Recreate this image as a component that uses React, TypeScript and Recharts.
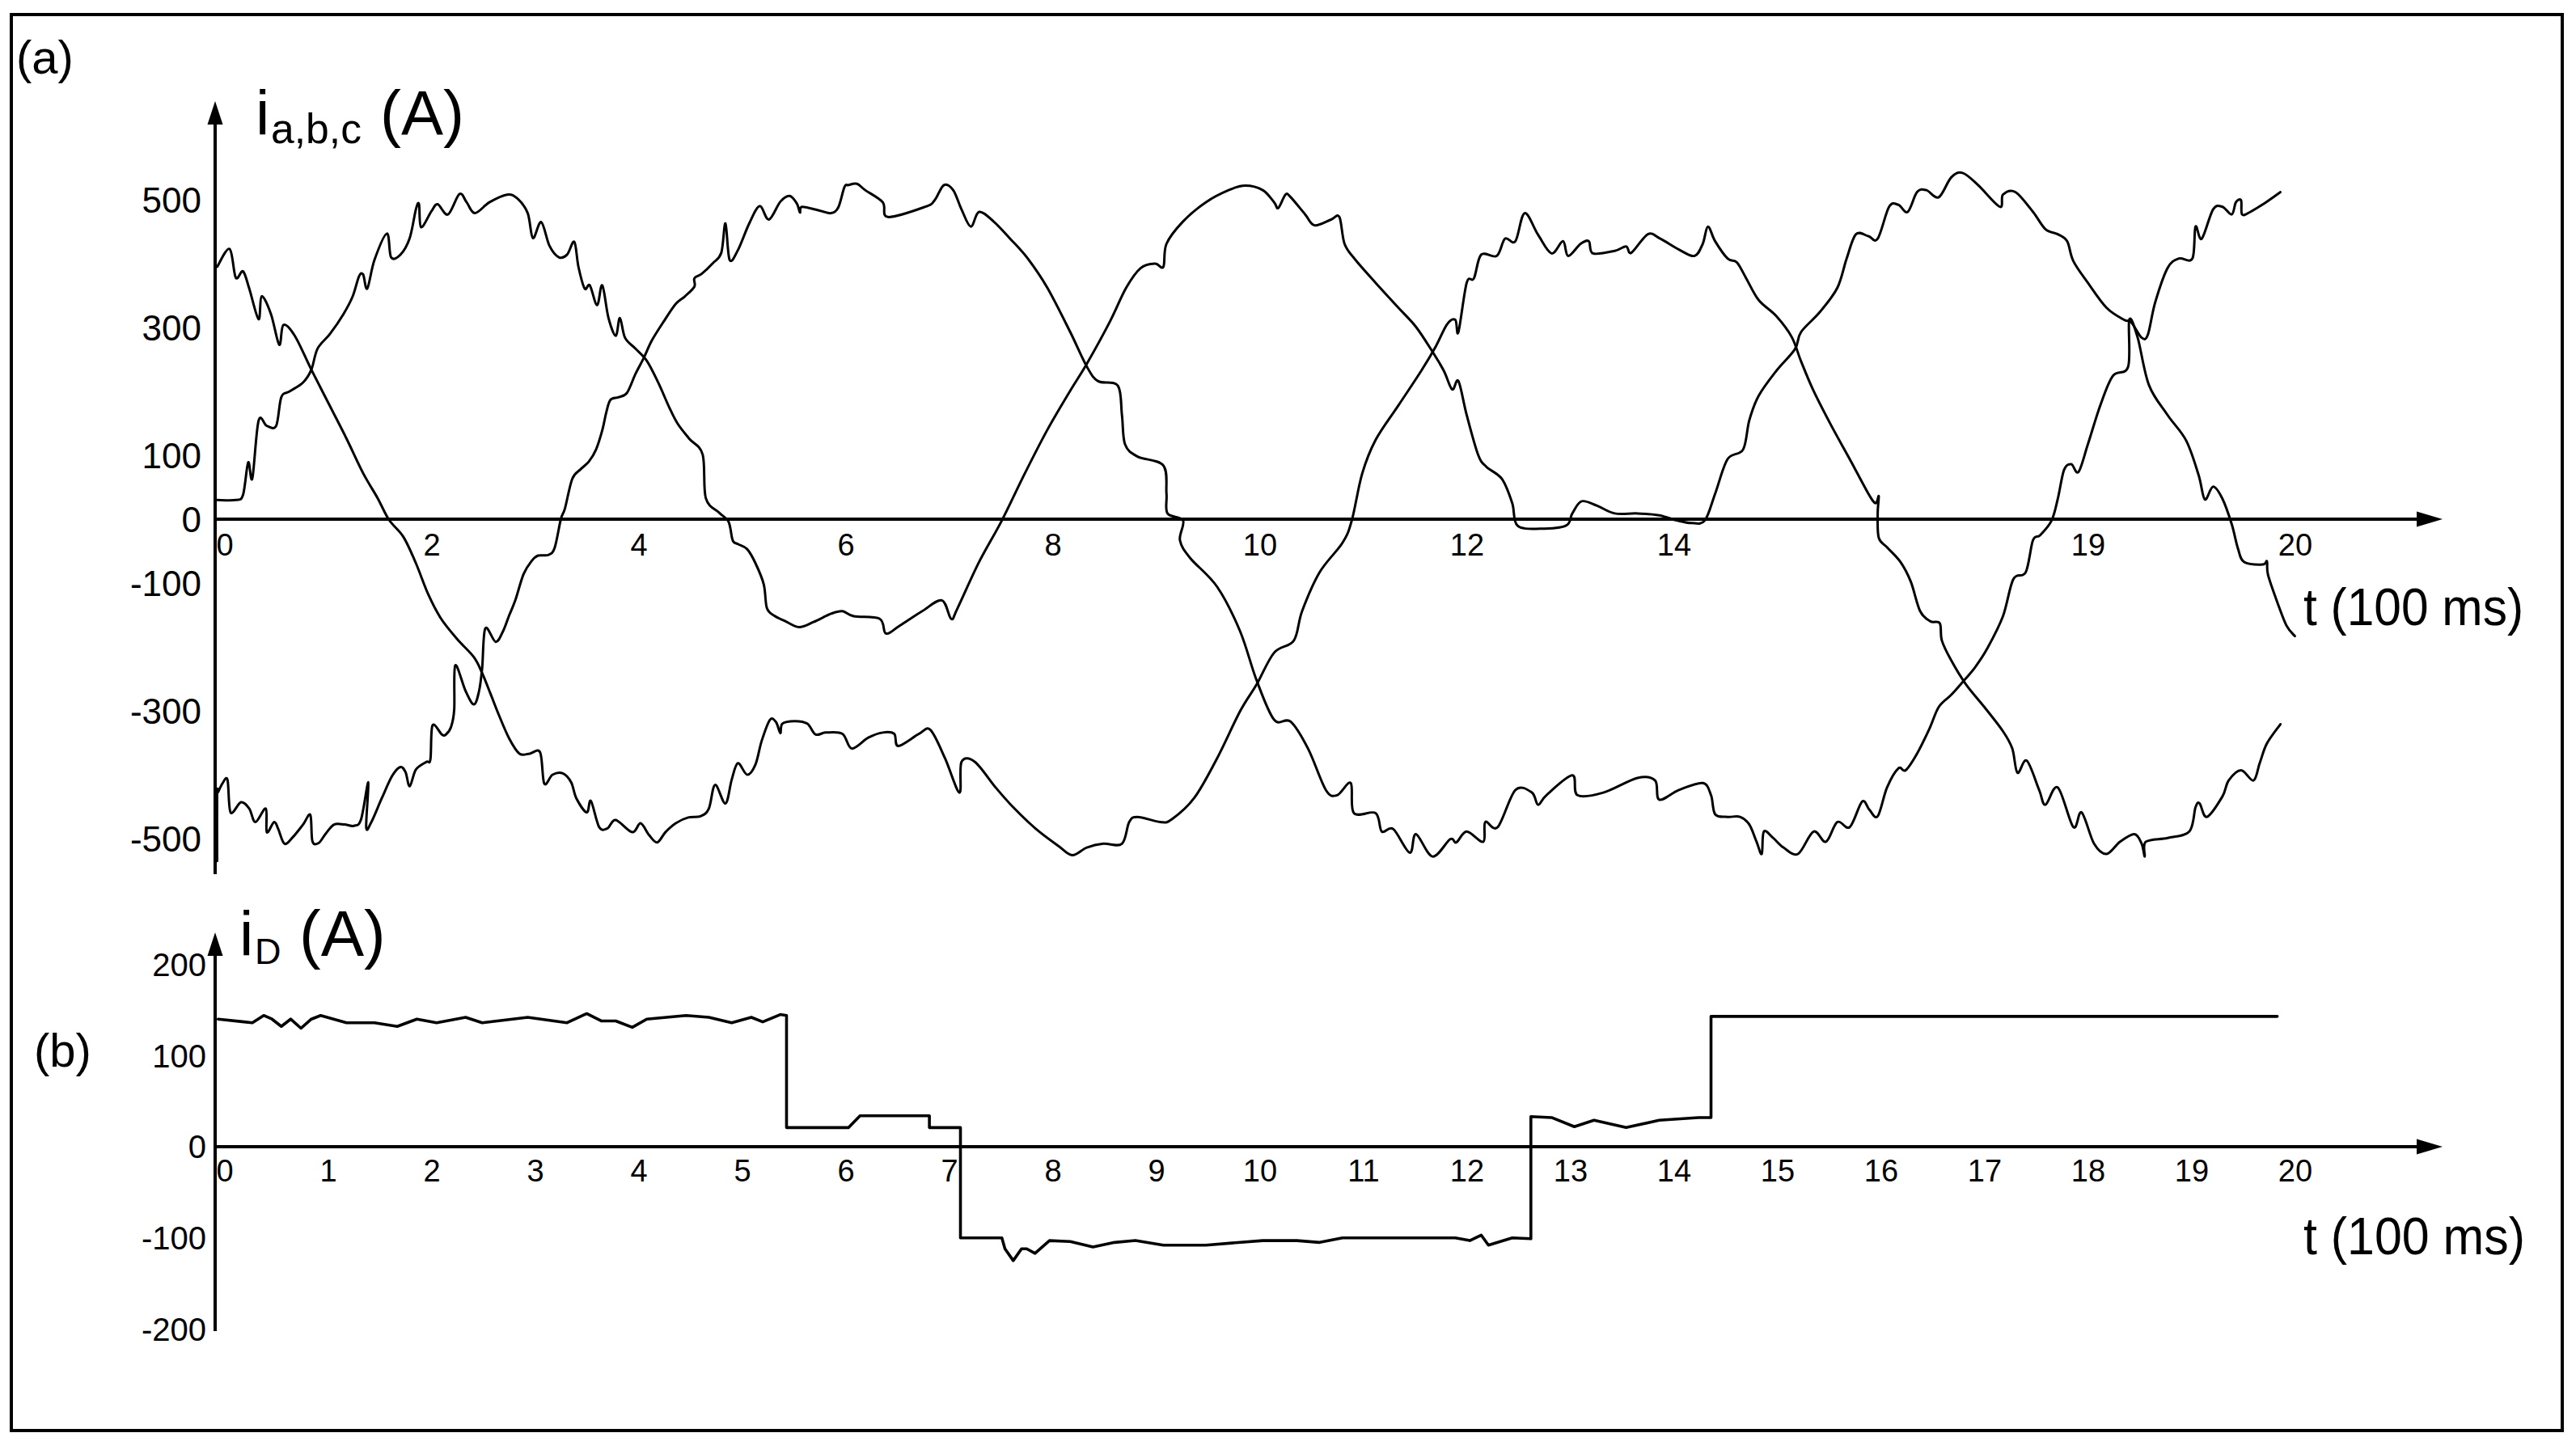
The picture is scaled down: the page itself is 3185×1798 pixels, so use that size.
import React from 'react';
import { LineChart, Line, XAxis, YAxis, ReferenceLine, ReferenceDot } from 'recharts';

type Pt = [number, number];

// (a) phase currents, t in units of 100 ms, current in A (hand-traced strokes)
const phaseA: Pt[] = [
  [-0.09, 30], [0.09, 30], [0.16, 38], [0.21, 89], [0.25, 64], [0.31, 154], [0.39, 146], [0.48, 146], [0.53, 191], [0.61, 200],
  [0.74, 214], [0.82, 234], [0.88, 267], [1.0, 290], [1.13, 321], [1.22, 349], [1.28, 380], [1.32, 383], [1.36, 361], [1.43, 406],
  [1.55, 447], [1.59, 410], [1.68, 414], [1.77, 440], [1.83, 485], [1.86, 493], [1.88, 457], [1.98, 482], [2.04, 493], [2.14, 477],
  [2.25, 509], [2.32, 496], [2.4, 479], [2.54, 496], [2.71, 508], [2.81, 502], [2.91, 479], [2.96, 440], [3.04, 465], [3.12, 428],
  [3.21, 410], [3.29, 414], [3.36, 434], [3.4, 395], [3.46, 361], [3.51, 366], [3.58, 335], [3.63, 366], [3.69, 315], [3.76, 287],
  [3.8, 315], [3.85, 284], [3.95, 267], [4.06, 248], [4.17, 214], [4.28, 174], [4.36, 149], [4.47, 126], [4.6, 101], [4.63, 33],
  [4.76, 10], [4.85, -4], [4.89, -33], [4.94, -39], [5.03, -47], [5.11, -69], [5.19, -102], [5.22, -139], [5.29, -151], [5.39, -159],
  [5.53, -169], [5.67, -161], [5.84, -148], [5.95, -144], [6.06, -152], [6.31, -156], [6.37, -179], [6.5, -167], [6.72, -144], [6.91, -127],
  [7.0, -156], [7.06, -140], [7.27, -67], [7.49, -2], [7.71, 71], [7.93, 140], [8.15, 201], [8.31, 243], [8.53, 308], [8.69, 362],
  [8.83, 393], [8.97, 400], [9.05, 395], [9.08, 431], [9.24, 466], [9.46, 496], [9.68, 515], [9.84, 522], [10.01, 515], [10.12, 496],
  [10.16, 487], [10.23, 508], [10.28, 504], [10.42, 477], [10.51, 460], [10.67, 469], [10.75, 473], [10.8, 431], [10.9, 407], [11.1, 370],
  [11.32, 331], [11.49, 301], [11.65, 262], [11.76, 232], [11.84, 203], [11.9, 216], [11.98, 163], [12.09, 101], [12.17, 82], [12.32, 63],
  [12.42, 25], [12.47, -10], [12.69, -15], [12.94, -10], [13.0, 9], [13.09, 28], [13.24, 21], [13.41, 9], [13.63, 9], [13.84, 6],
  [14.01, -2], [14.15, -6], [14.28, -2], [14.38, 40], [14.5, 94], [14.65, 109], [14.71, 155], [14.8, 193], [14.97, 232], [15.15, 266],
  [15.21, 293], [15.39, 324], [15.56, 362], [15.65, 408], [15.74, 446], [15.86, 443], [15.95, 439], [16.06, 489], [16.15, 492], [16.24, 481],
  [16.33, 512], [16.42, 515], [16.54, 504], [16.66, 535], [16.77, 542], [16.92, 523], [17.13, 489], [17.16, 508], [17.28, 512], [17.45, 481],
  [17.57, 454], [17.69, 446], [17.78, 435], [17.84, 404], [17.98, 370], [18.16, 331], [18.33, 312], [18.4, 308], [18.5, 284], [18.56, 289],
  [18.63, 339], [18.75, 393], [18.86, 408], [18.99, 408], [19.02, 458], [19.08, 439], [19.19, 485], [19.28, 489], [19.37, 477], [19.41, 496],
  [19.46, 499], [19.47, 477], [19.55, 481], [19.7, 496], [19.84, 512],
];

const phaseB: Pt[] = [
  [-0.09, -535], [-0.09, -430], [-0.08, -427], [-0.04, -414], [0.01, -408], [0.04, -459], [0.14, -443], [0.22, -453], [0.28, -474], [0.38, -453],
  [0.39, -490], [0.46, -474], [0.5, -485], [0.56, -508], [0.64, -498], [0.74, -478], [0.81, -463], [0.83, -504], [0.89, -507], [0.96, -492],
  [1.04, -478], [1.14, -478], [1.23, -480], [1.3, -470], [1.37, -412], [1.35, -482], [1.4, -474], [1.5, -437], [1.6, -402], [1.68, -388],
  [1.73, -396], [1.77, -418], [1.83, -392], [1.93, -380], [1.97, -376], [1.99, -323], [2.08, -337], [2.12, -337], [2.17, -325], [2.2, -298],
  [2.21, -229], [2.31, -269], [2.39, -290], [2.44, -269], [2.47, -233], [2.5, -171], [2.6, -192], [2.67, -176], [2.73, -151], [2.79, -127],
  [2.87, -86], [2.95, -65], [3.01, -57], [3.11, -56], [3.17, -45], [3.23, 0], [3.27, 17], [3.34, 63], [3.42, 78], [3.5, 90],
  [3.57, 109], [3.63, 139], [3.67, 168], [3.71, 187], [3.79, 191], [3.87, 198], [3.95, 227], [4.03, 252], [4.11, 280], [4.23, 311],
  [4.34, 337], [4.43, 349], [4.52, 364], [4.52, 377], [4.59, 384], [4.7, 401], [4.78, 417], [4.82, 463], [4.86, 406], [4.94, 421],
  [5.05, 463], [5.15, 490], [5.24, 469], [5.35, 497], [5.44, 506], [5.51, 494], [5.54, 480], [5.56, 489], [5.73, 483], [5.84, 479],
  [5.91, 488], [5.97, 520], [6.01, 523], [6.09, 525], [6.17, 515], [6.34, 496], [6.39, 473], [6.75, 489], [6.84, 499], [6.93, 523],
  [7.02, 515], [7.1, 485], [7.19, 458], [7.27, 481], [7.41, 466], [7.57, 439], [7.74, 408], [7.93, 362], [8.15, 293], [8.31, 239],
  [8.42, 216], [8.61, 209], [8.65, 163], [8.68, 117], [8.8, 98], [9.05, 84], [9.08, 40], [9.09, 9], [9.24, -2], [9.21, -33],
  [9.31, -61], [9.57, -106], [9.79, -175], [9.95, -252], [10.12, -314], [10.28, -317], [10.45, -360], [10.62, -424], [10.73, -432], [10.86, -413],
  [10.89, -460], [11.1, -460], [11.16, -489], [11.27, -485], [11.43, -522], [11.49, -493], [11.65, -528], [11.82, -501], [11.88, -506], [11.98, -489],
  [12.14, -505], [12.16, -474], [12.28, -482], [12.45, -424], [12.61, -428], [12.67, -447], [12.75, -432], [13.0, -401], [13.05, -432], [13.3, -428],
  [13.63, -405], [13.8, -409], [13.84, -439], [14.03, -424], [14.26, -413], [14.34, -432], [14.38, -462], [14.5, -466], [14.62, -466], [14.71, -478],
  [14.78, -505], [14.83, -524], [14.85, -489], [14.94, -499], [15.04, -514], [15.18, -524], [15.33, -489], [15.45, -505], [15.56, -474], [15.68, -482],
  [15.8, -442], [15.87, -455], [15.95, -465], [16.04, -420], [16.15, -390], [16.22, -393], [16.33, -367], [16.45, -328], [16.54, -294], [16.66, -275],
  [16.77, -255], [16.89, -232], [17.01, -202], [17.16, -152], [17.26, -94], [17.38, -83], [17.45, -33], [17.52, -25], [17.63, -2], [17.69, 32],
  [17.75, 77], [17.82, 86], [17.89, 74], [17.98, 117], [18.1, 178], [18.22, 224], [18.37, 239], [18.38, 312], [18.46, 285], [18.57, 210],
  [18.75, 163], [18.93, 123], [19.05, 69], [19.11, 31], [19.19, 51], [19.28, 32], [19.37, -8], [19.43, -46], [19.49, -67], [19.67, -71],
  [19.71, -66], [19.72, -87], [19.81, -130], [19.9, -167], [19.98, -183],
];

const phaseC: Pt[] = [
  [-0.09, 395], [0.03, 423], [0.09, 378], [0.16, 388], [0.22, 361], [0.31, 313], [0.34, 349], [0.43, 321], [0.51, 273], [0.55, 304],
  [0.66, 287], [0.82, 234], [0.99, 180], [1.16, 126], [1.32, 72], [1.46, 33], [1.57, -1], [1.71, -28], [1.83, -69], [1.95, -118],
  [2.07, -155], [2.23, -188], [2.39, -216], [2.47, -241], [2.55, -273], [2.63, -306], [2.73, -343], [2.83, -367], [2.93, -367], [3.03, -365],
  [3.07, -414], [3.15, -400], [3.25, -398], [3.33, -412], [3.38, -437], [3.48, -459], [3.52, -441], [3.6, -482], [3.68, -484], [3.76, -471],
  [3.92, -490], [4.0, -476], [4.08, -494], [4.16, -506], [4.24, -490], [4.34, -476], [4.46, -467], [4.58, -465], [4.66, -453], [4.72, -416],
  [4.82, -445], [4.88, -408], [4.94, -382], [5.03, -400], [5.11, -384], [5.17, -347], [5.25, -314], [5.31, -318], [5.35, -335], [5.37, -320],
  [5.49, -316], [5.61, -320], [5.69, -337], [5.79, -334], [5.95, -336], [6.04, -359], [6.2, -342], [6.34, -334], [6.45, -336], [6.49, -355],
  [6.69, -336], [6.8, -330], [6.94, -374], [7.08, -428], [7.1, -380], [7.23, -380], [7.43, -420], [7.6, -451], [7.82, -485], [8.04, -512],
  [8.17, -526], [8.31, -514], [8.47, -508], [8.65, -508], [8.72, -474], [8.8, -466], [9.02, -474], [9.13, -470], [9.35, -436], [9.57, -374],
  [9.79, -301], [9.95, -259], [10.12, -209], [10.31, -190], [10.39, -144], [10.56, -83], [10.78, -37], [10.87, -2], [10.97, 71], [11.1, 124],
  [11.32, 178], [11.54, 232], [11.68, 270], [11.79, 305], [11.87, 312], [11.9, 293], [11.98, 370], [12.05, 377], [12.12, 414], [12.27, 412],
  [12.35, 439], [12.45, 435], [12.54, 479], [12.67, 445], [12.8, 416], [12.91, 435], [12.96, 412], [13.08, 431], [13.16, 435], [13.2, 416],
  [13.41, 420], [13.52, 427], [13.57, 417], [13.73, 446], [13.85, 439], [14.03, 422], [14.18, 412], [14.26, 431], [14.31, 458], [14.38, 435],
  [14.5, 408], [14.59, 402], [14.68, 377], [14.8, 343], [14.97, 318], [15.12, 285], [15.21, 247], [15.33, 201], [15.5, 147], [15.68, 94],
  [15.86, 40], [15.93, 25], [15.96, 36], [15.95, 9], [15.96, -29], [16.04, -44], [16.17, -67], [16.27, -98], [16.36, -144], [16.46, -160],
  [16.55, -163], [16.57, -190], [16.66, -221], [16.8, -258], [16.98, -294], [17.16, -332], [17.25, -359], [17.3, -397], [17.39, -378], [17.51, -424],
  [17.57, -447], [17.69, -420], [17.84, -482], [17.92, -459], [18.04, -508], [18.16, -524], [18.29, -505], [18.43, -493], [18.5, -508], [18.53, -528],
  [18.54, -505], [18.75, -499], [18.96, -489], [19.02, -451], [19.06, -445], [19.13, -466], [19.28, -434], [19.34, -409], [19.46, -393], [19.58, -409],
  [19.64, -382], [19.71, -351], [19.84, -321],
];

// (b) i_D
const currentD: Pt[] = [
  [-0.08, 140], [0.17, 137], [0.25, 136], [0.36, 144], [0.44, 140], [0.53, 132], [0.62, 140], [0.72, 130], [0.82, 140], [0.91, 144],
  [1.16, 136], [1.43, 136], [1.65, 132], [1.84, 140], [2.03, 136], [2.31, 142], [2.47, 136], [2.91, 142], [3.29, 136], [3.48, 146],
  [3.62, 138], [3.76, 138], [3.92, 131], [4.06, 140], [4.44, 144], [4.66, 142], [4.88, 136], [5.07, 142], [5.18, 137], [5.35, 145],
  [5.41, 144], [5.41, 21], [6.01, 21], [6.12, 34], [6.79, 34], [6.79, 21], [7.09, 21], [7.09, -100], [7.49, -100], [7.52, -112],
  [7.6, -125], [7.68, -112], [7.73, -112], [7.81, -117], [7.95, -103], [8.15, -104], [8.37, -110], [8.58, -105], [8.78, -103], [9.05, -108],
  [9.46, -108], [10.01, -103], [10.34, -103], [10.56, -105], [10.78, -100], [11.87, -100], [12.01, -103], [12.12, -97], [12.19, -108], [12.42, -100],
  [12.6, -101], [12.6, 33], [12.8, 32], [13.02, 22], [13.21, 29], [13.52, 21], [13.84, 29], [14.22, 32], [14.34, 32], [14.34, 143],
  [19.81, 143],
];

const topTimeTicks = [0, 2, 4, 6, 8, 10, 12, 14, 18, 20];
const topTimeLabels = ['0', '2', '4', '6', '8', '10', '12', '14', '19', '20'];
const bottomTimeTicks = [0, 1, 2, 3, 4, 5, 6, 7, 8, 9, 10, 11, 12, 13, 14, 15, 16, 17, 18, 19, 20];
const bottomTimeLabels = bottomTimeTicks.map(String);
const topCurrentTicks = [500, 300, 100, 0, -100, -300, -500];
const bottomCurrentTicks = [200, 100, 0, -100, -200];

const W = 3185;
const H = 1798;
const FONT = "'Liberation Sans', Arial, Helvetica, sans-serif";
const AXIS_W = 100;
const PLOT_LEFT = 266;
const PLOT_RIGHT = 3040;
const PX_PER_T = 128;
const T_MIN = (PLOT_LEFT - 280) / PX_PER_T;
const T_MAX = (PLOT_RIGHT - 280) / PX_PER_T;
const T_TIP = (3020 - 280) / PX_PER_T;
const T_LINE_END = (3000 - 280) / PX_PER_T;

// smooth pen-like curve through the traced points (Catmull-Rom as cubic beziers)
const penCurve = (context: any) => {
  let pts: number[][] = [];
  return {
    areaStart() {},
    areaEnd() {},
    lineStart() {
      pts = [];
    },
    point(x: number, y: number) {
      pts.push([+x, +y]);
    },
    lineEnd() {
      if (!pts.length) return;
      context.moveTo(pts[0][0], pts[0][1]);
      for (let i = 0; i < pts.length - 1; i++) {
        const p0 = pts[i - 1] || pts[i];
        const p1 = pts[i];
        const p2 = pts[i + 1];
        const p3 = pts[i + 2] || p2;
        context.bezierCurveTo(
          p1[0] + (p2[0] - p0[0]) / 6,
          p1[1] + (p2[1] - p0[1]) / 6,
          p2[0] - (p3[0] - p1[0]) / 6,
          p2[1] - (p3[1] - p1[1]) / 6,
          p2[0],
          p2[1],
        );
      }
    },
  };
};

interface PanelProps {
  series: Pt[][];
  plotTop: number;
  plotBottom: number;
  zeroY: number;
  pxPerUnit: number;
  yTicks: number[];
  yFont: number;
  yGap: number;
  xTicks: number[];
  xLabels: string[];
  xLabelDy: number;
  lineWidth: number;
  smooth: boolean;
}

function Panel({ series, plotTop, plotBottom, zeroY, pxPerUnit, yTicks, yFont, yGap, xTicks, xLabels, xLabelDy, lineWidth, smooth }: PanelProps) {
  const vMax = (zeroY - plotTop) / pxPerUnit;
  const vMin = (zeroY - plotBottom) / pxPerUnit;
  const axisTop = vMax - 10 / pxPerUnit;

  return (
    <div style={{ position: 'absolute', left: 0, top: 0 }}>
      <LineChart
        width={W}
        height={H}
        margin={{ top: plotTop, bottom: H - plotBottom, left: PLOT_LEFT - AXIS_W, right: W - PLOT_RIGHT }}
      >
        <XAxis type="number" dataKey="t" domain={[T_MIN, T_MAX]} allowDataOverflow hide />
        <YAxis
          type="number"
          domain={[vMin, vMax]}
          allowDataOverflow
          ticks={yTicks}
          interval={0}
          width={AXIS_W}
          axisLine={false}
          tickLine={false}
          tickSize={0}
          tickMargin={yGap}
          tick={(p: any) => (
            <text x={p.x} y={p.y} dy="0.36em" textAnchor="end" fontSize={yFont} fontFamily={FONT} fill="#000">
              {p.payload.value}
            </text>
          )}
        />

        {/* axes with arrow heads */}
        <ReferenceLine
          segment={[{ x: T_MIN, y: vMin }, { x: T_MIN, y: axisTop }]}
          stroke="#000"
          strokeWidth={4}
          ifOverflow="visible"
        />
        <ReferenceLine
          segment={[{ x: T_MIN, y: 0 }, { x: T_LINE_END, y: 0 }]}
          stroke="#000"
          strokeWidth={4}
          ifOverflow="visible"
        />
        <ReferenceDot
          x={T_MIN}
          y={vMax}
          r={0}
          ifOverflow="visible"
          shape={(p: any) => (
            <polygon points={`${p.cx},${p.cy} ${p.cx - 9.5},${p.cy + 29} ${p.cx + 9.5},${p.cy + 29}`} fill="#000" />
          )}
        />
        <ReferenceDot
          x={T_TIP}
          y={0}
          r={0}
          ifOverflow="visible"
          shape={(p: any) => (
            <polygon points={`${p.cx},${p.cy} ${p.cx - 32},${p.cy - 9.5} ${p.cx - 32},${p.cy + 9.5}`} fill="#000" />
          )}
        />

        {/* time tick labels sit under the zero line */}
        {xTicks.map((t, i) => (
          <ReferenceDot
            key={`xt-${i}`}
            x={t}
            y={0}
            r={0}
            ifOverflow="visible"
            shape={(p: any) => (
              <text x={p.cx - 2} y={p.cy + xLabelDy} textAnchor="middle" fontSize={38} fontFamily={FONT} fill="#000">
                {xLabels[i]}
              </text>
            )}
          />
        ))}

        {series.map((s, i) => (
          <Line
            key={`s-${i}`}
            data={s.map(([t, v]) => ({ t, v }))}
            dataKey="v"
            type={smooth ? (penCurve as any) : 'linear'}
            stroke="#000"
            strokeWidth={lineWidth}
            strokeLinejoin="round"
            strokeLinecap="round"
            dot={false}
            activeDot={false}
            isAnimationActive={false}
          />
        ))}
      </LineChart>
    </div>
  );
}

export default function App() {
  return (
    <div style={{ position: 'absolute', left: 0, top: 0, width: W, height: H, background: '#fff', overflow: 'hidden' }}>
      <div
        style={{
          position: 'absolute',
          left: 12,
          top: 16,
          width: 3158,
          height: 1755,
          border: '4.5px solid #000',
          boxSizing: 'border-box',
        }}
      />

      <Panel
        series={[phaseA, phaseB, phaseC]}
        plotTop={125}
        plotBottom={1081}
        zeroY={642}
        pxPerUnit={0.79}
        yTicks={topCurrentTicks}
        yFont={44}
        yGap={17}
        xTicks={topTimeTicks}
        xLabels={topTimeLabels}
        xLabelDy={45}
        lineWidth={3}
        smooth
      />

      <Panel
        series={[currentD]}
        plotTop={1153}
        plotBottom={1646}
        zeroY={1418}
        pxPerUnit={1.127}
        yTicks={bottomCurrentTicks}
        yFont={40}
        yGap={11}
        xTicks={bottomTimeTicks}
        xLabels={bottomTimeLabels}
        xLabelDy={43}
        lineWidth={3.6}
        smooth={false}
      />

      <svg width={W} height={H} style={{ position: 'absolute', left: 0, top: 0, pointerEvents: 'none' }} fontFamily={FONT}>
        <text x={20} y={91} fontSize={58} fill="#000">(a)</text>
        <text fontSize={78} fill="#000">
          <tspan x={316} y={167}>i</tspan>
          <tspan x={335} y={177} fontSize={52} textLength={112} lengthAdjust="spacingAndGlyphs">a,b,c</tspan>
          <tspan x={470} y={167}>(A)</tspan>
        </text>
        <text x={2848} y={773} fontSize={64} fill="#000" textLength={272} lengthAdjust="spacingAndGlyphs">t (100 ms)</text>

        <text x={42} y={1319} fontSize={58} fill="#000">(b)</text>
        <text fontSize={78} fill="#000">
          <tspan x={296} y={1182}>i</tspan>
          <tspan x={315} y={1192} fontSize={45}>D</tspan>
          <tspan x={370} y={1182} fontSize={80}>(A)</tspan>
        </text>
        <text x={2848} y={1551} fontSize={64} fill="#000" textLength={274} lengthAdjust="spacingAndGlyphs">t (100 ms)</text>
      </svg>
    </div>
  );
}
